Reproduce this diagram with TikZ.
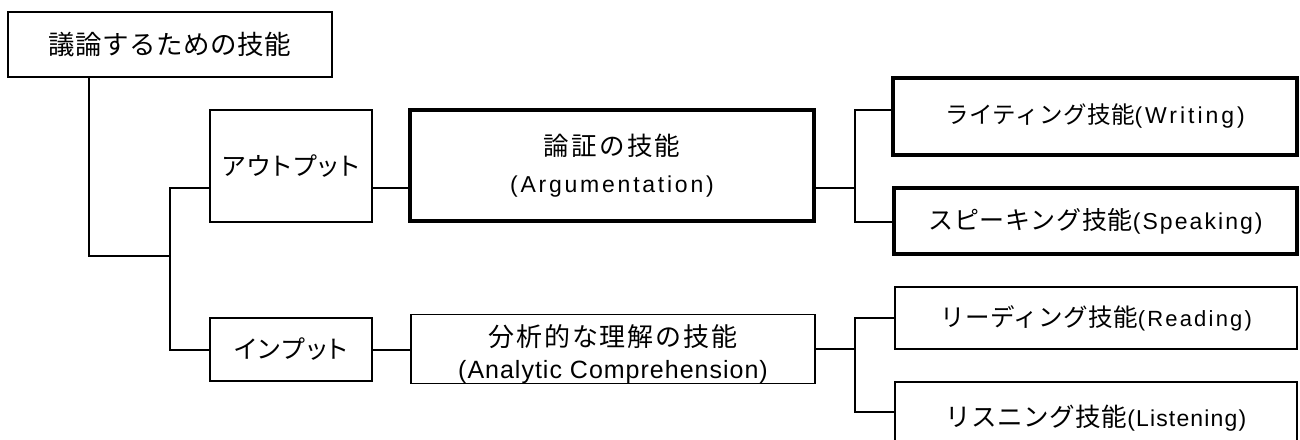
\documentclass[tikz,border=0pt]{standalone}
\usepackage{fontspec}
\setmainfont{Liberation Sans}
\newfontfamily\jp{Noto Sans CJK JP}
\newfontfamily\jpp{Noto Sans CJK JP}[RawFeature=+palt]
\newcommand\J[3]{{\jp\addfontfeature{LetterSpace=#2}\fontsize{#1}{#1}\selectfont #3}}
\newcommand\JP[3]{{\jpp\addfontfeature{LetterSpace=#2}\fontsize{#1}{#1}\selectfont #3}}
\newcommand\Lt[3]{{\addfontfeature{LetterSpace=#2}\fontsize{#1}{#1}\selectfont #3}}
\tikzset{
  box/.style={draw=black, line width=1.8pt, inner sep=0pt, align=center},
  thickbox/.style={box, line width=3.4pt},
  conn/.style={draw=black, line width=1.8pt},
  bconn/.style={draw=black, line width=1.5pt},
}
\begin{document}
\begin{tikzpicture}[x=1pt, y=-1pt]
\useasboundingbox (0,0) rectangle (1300,439);
\clip (0,0) rectangle (1300,439);
% boxes
\node[box, minimum width=324pt, minimum height=65pt] (root) at (170,44.5) {\J{26.5}{2}{議論するための技能}};
\node[box, minimum width=162pt, minimum height=112pt] (out) at (291,166) {\JP{25}{8}{アウトプット}};
\node[box, minimum width=162pt, minimum height=63pt] (inp) at (291,349.5) {\JP{25}{8}{インプット}};
\node[thickbox, minimum width=404pt, minimum height=111pt, font=\fontsize{23}{37}\selectfont] (arg) at (612,165.5) {\J{25.5}{9}{論証の技能}\\\Lt{23}{12}{(Argumentation)}};
\node[box, minimum width=404pt, minimum height=62pt, font=\fontsize{24}{32}\selectfont] (ana) at (613,349) {\rule{0pt}{32pt}\J{26}{7}{分析的な理解の技能}\\\Lt{25}{4}{(Analytic Comprehension)}};
\node[thickbox, minimum width=404pt, minimum height=77pt] (wri) at (1095,116.5) {\J{23.5}{2}{ライティング技能}\Lt{23}{13}{(Writing)}};
\node[thickbox, minimum width=403pt, minimum height=66pt] (spk) at (1095.5,221) {\J{25}{3}{スピーキング技能}\Lt{23}{9}{(Speaking)}};
\node[box, minimum width=402pt, minimum height=62pt] (rea) at (1096,318) {\J{24.5}{2}{リーディング技能}\Lt{22}{10}{(Reading)}};
\node[box, minimum width=402pt, minimum height=72pt] (lis) at (1096,418) {\J{25.5}{2}{リスニング技能}\Lt{23}{5}{(Listening)}};
% junction coordinates
\coordinate (j1) at (89,256);
\coordinate (j2) at (170,256);
\coordinate (bo) at (170,188);
\coordinate (bi) at (170,350);
\coordinate (ba) at (855,188);
\coordinate (yw) at (855,110);
\coordinate (ys) at (855,222);
\coordinate (bb) at (855,349);
\coordinate (yr) at (855,318);
\coordinate (yl) at (855,412);
% connectors
\draw[conn] (root.south -| j1) -- (j1) -- (j2);
\draw[conn] (bo -| out.west) -- (bo) -- (bi) -- (bi -| inp.west);
\draw[conn] (bo -| out.east) -- (bo -| arg.west);
\draw[conn] (bo -| arg.east) -- (ba);
\draw[conn] (bi -| inp.east) -- (bi -| ana.west);
\draw[conn] (bb -| ana.east) -- (bb);
\draw[bconn] (yw -| wri.west) -- (yw) -- (ys) -- (ys -| spk.west);
\draw[bconn] (yr -| rea.west) -- (yr) -- (yl) -- (yl -| lis.west);
\end{tikzpicture}
\end{document}
